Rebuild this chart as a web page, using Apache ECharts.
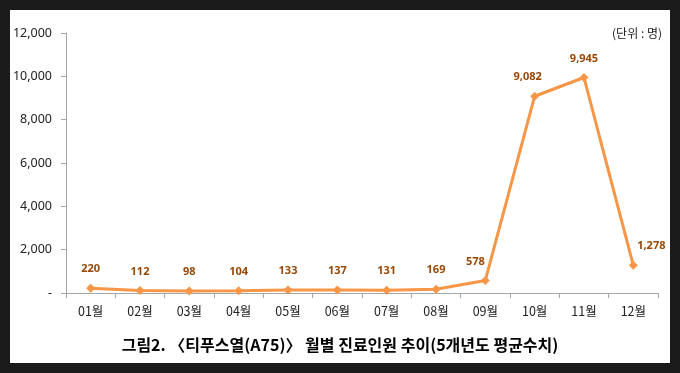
<!DOCTYPE html>
<html><head><meta charset="utf-8">
<script src="https://cdn.jsdelivr.net/npm/echarts@6/dist/echarts.min.js"></script>
<style>
html,body{margin:0;padding:0;width:680px;height:373px;background:#1b1b1b;overflow:hidden}
#bg{position:absolute;left:10px;top:10px;width:660px;height:353px;background:#fff}
#c{position:absolute;left:0;top:0;width:680px;height:373px}
</style></head><body>
<div id="bg"></div><div id="c"></div>
<script>
const categories = ['01월','02월','03월','04월','05월','06월','07월','08월','09월','10월','11월','12월'];
const values = [220,112,98,104,133,137,131,169,578,9082,9945,1278];
const yTicks = [0,2000,4000,6000,8000,10000,12000];
const caption = '그림2. 〈티푸스열(A75)〉 월별 진료인원 추이(5개년도 평균수치)';
const unitText = '(단위 : 명)';

const fmt = v => v === 0 ? '-' : v.toLocaleString('en-US');
const seriesData = values.map((v,i) => {
  const d = {value: v};
  if (i === 11) d.label = {offset: [18,0]};
  if (i === 9) d.label = {offset: [-7,0]};
  if (i === 8) d.label = {offset: [-10,0]};
  return d;
});
const chart = echarts.init(document.getElementById('c'));
chart.setOption({
  animation:false,
  backgroundColor:'transparent',
  grid:{left:66,right:22,top:33,bottom:80},
  xAxis:{type:'category',data:categories,boundaryGap:true,
    axisLine:{lineStyle:{color:'#a6a6a6',width:1}},
    axisTick:{show:true,length:5,lineStyle:{color:'#a6a6a6'}},
    axisLabel:{color:'#222',fontSize:12.5,margin:12,fontFamily:'"Noto Sans CJK KR", sans-serif'}},
  yAxis:{type:'value',min:yTicks[0],max:yTicks[yTicks.length-1],interval:2000,
    axisLine:{show:true,lineStyle:{color:'#a6a6a6',width:1}},
    axisTick:{show:true,length:5,lineStyle:{color:'#a6a6a6'}},
    splitLine:{show:false},
    axisLabel:{color:'#222',fontSize:12.5,margin:14,formatter:fmt,fontFamily:'"Noto Sans", sans-serif'}},
  series:[{type:'line',data:seriesData,symbol:'diamond',symbolSize:9,
    lineStyle:{color:'#f79646',width:3},itemStyle:{color:'#f79646'},
    label:{show:true,position:'top',distance:9,color:'#984807',fontWeight:'bold',fontSize:11,
      fontFamily:'"Noto Sans", sans-serif',formatter:p=>fmt(p.value)}}],
  graphic:[
    {type:'text',right:18,top:27,style:{text:unitText,fontSize:12,fill:'#222',fontFamily:'"Noto Sans CJK KR", sans-serif'}},
    {type:'text',left:'center',top:337,style:{text:caption,fontSize:16,fontWeight:'bold',fill:'#000',fontFamily:'"Noto Sans CJK KR", sans-serif'}}
  ]
});
</script></body></html>
